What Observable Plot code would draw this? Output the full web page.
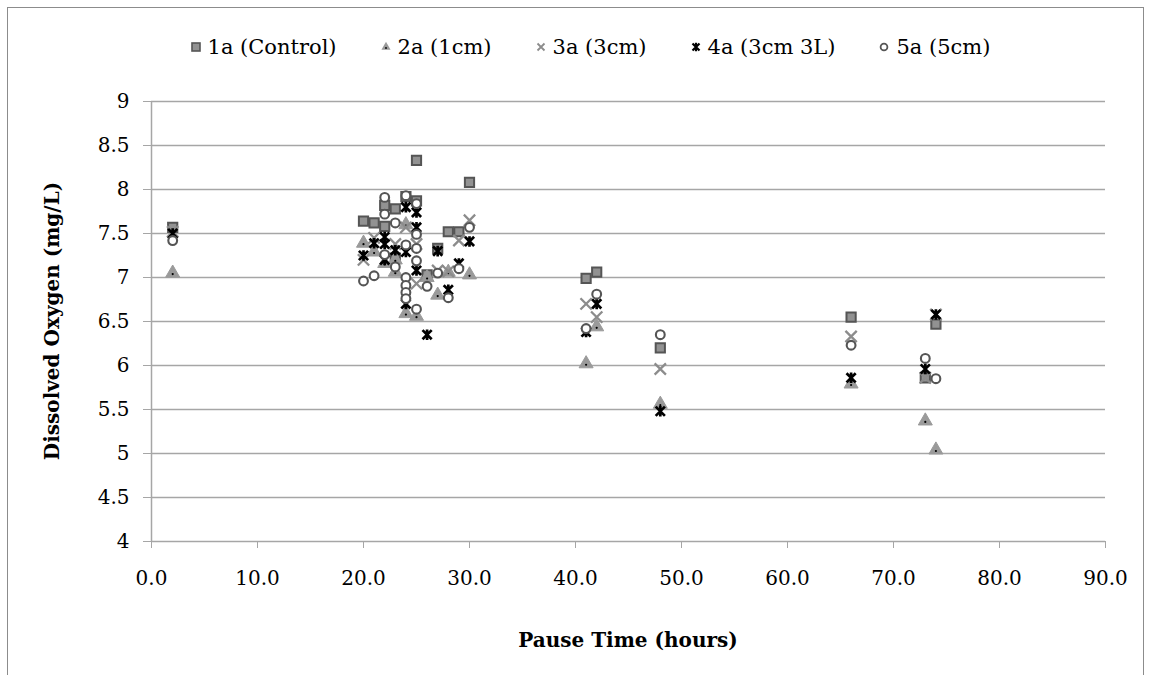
<!DOCTYPE html>
<html>
<head>
<meta charset="utf-8">
<script src="https://cdn.jsdelivr.net/npm/d3@7"></script>
<script src="https://cdn.jsdelivr.net/npm/@observablehq/plot@0.6"></script>
<style>
  html, body { margin: 0; padding: 0; background: #fff; }
  #wrap { position: relative; width: 1153px; height: 675px; overflow: hidden; font-family: "DejaVu Serif", serif; }
  #border { position: absolute; left: 7px; top: 7px; width: 1137px; height: 700px; border: 1.5px solid #8c8c8c; box-sizing: border-box; }
  #chart { position: absolute; left: 0; top: 0; }
  #legend { position: absolute; top: 35px; left: 14px; width: 1153px; display: flex; justify-content: center; gap: 44px; font-size: 21px; color: #000; }
  #legend .item { display: flex; align-items: center; gap: 7px; }
  #legend svg { overflow: visible; }
  .ytitle { position: absolute; left: 52px; top: 321px; transform: translate(-50%, -50%) rotate(-90deg); font-weight: bold; font-size: 20px; white-space: nowrap; }
  .xtitle { position: absolute; left: 628px; top: 640px; transform: translate(-50%, -50%); font-weight: bold; font-size: 20px; white-space: nowrap; }
</style>
</head>
<body>
<div id="wrap">
  <div id="border"></div>
  <div id="chart"></div>
  <div id="legend"></div>
  <div class="ytitle">Dissolved Oxygen (mg/L)</div>
  <div class="xtitle">Pause Time (hours)</div>
</div>
<script>
// ---- data ----
const pauseHours = [2, 20, 21, 22, 22, 22, 23, 23, 24, 24, 24, 24, 24, 24, 25, 25, 25, 25, 25, 26, 27, 28, 29, 30, 41, 42, 48, 66, 73, 74];

const do1a = [7.57, 7.64, 7.62, 7.82, 7.58, null, 7.78, 7.22, 7.92, null, null, null, null, null, 8.33, 7.87, null, null, null, 7.03, 7.33, 7.52, 7.52, 8.08, 6.99, 7.06, 6.20, 6.55, 5.86, 6.47];
const do2a = [7.05, 7.39, 7.29, 7.16, null, null, 7.20, 7.06, 7.60, 6.59, null, null, null, null, null, 6.56, null, null, null, 7.00, 6.80, 7.06, null, 7.03, 6.02, 6.44, 5.56, 5.79, 5.37, 5.04];
const do3a = [7.52, 7.20, 7.45, null, null, null, 7.38, null, 7.57, null, null, null, null, null, 7.38, 6.93, null, null, null, null, 7.08, 7.07, 7.42, 7.65, 6.70, 6.55, 5.96, 6.33, 5.86, 6.58];
const do4a = [7.50, 7.25, 7.39, 7.46, 7.38, 7.20, 7.31, null, 7.80, 7.29, 6.70, null, null, null, 7.74, 7.57, 7.08, null, null, 6.35, 7.30, 6.86, 7.16, 7.41, 6.38, 6.70, 5.48, 5.86, 5.96, 6.58];
const do5a = [7.42, 6.96, 7.02, 7.91, 7.72, 7.26, 7.62, 7.12, 7.93, 7.37, 7.00, 6.91, 6.83, 6.76, 7.84, 7.49, 7.33, 7.19, 6.64, 6.90, 7.05, 6.77, 7.10, 7.57, 6.42, 6.81, 6.35, 6.23, 6.08, 5.85];

const seriesNames = ["1a (Control)", "2a (1cm)", "3a (3cm)", "4a (3cm 3L)", "5a (5cm)"];
const xTicks = [0, 10, 20, 30, 40, 50, 60, 70, 80, 90];
const yTicks = [4, 4.5, 5, 5.5, 6, 6.5, 7, 7.5, 8, 8.5, 9];

// ---- build tidy rows ----
function rows(values) {
  return pauseHours.map((h, i) => ({hours: h, value: values[i]})).filter(d => d.value != null);
}
const s1 = rows(do1a), s2 = rows(do2a), s3 = rows(do3a), s4 = rows(do4a), s5 = rows(do5a);

// Excel-like "star" marker: an x with a vertical bar
const starSymbol = {
  draw(ctx, size) {
    const r = Math.sqrt(size / Math.PI);
    ctx.moveTo(-r, -r); ctx.lineTo(r, r);
    ctx.moveTo(r, -r); ctx.lineTo(-r, r);
    ctx.moveTo(0, -r * 1.15); ctx.lineTo(0, r * 1.15);
  }
};

const chart = Plot.plot({
  width: 1153,
  height: 675,
  marginTop: 101,
  marginBottom: 134,
  marginLeft: 151,
  marginRight: 48,
  style: {fontFamily: "DejaVu Serif, serif", fontSize: "19px", color: "#000", background: "transparent"},
  x: {domain: [0, 90], label: null},
  y: {domain: [4, 9], label: null},
  marks: [
    Plot.ruleY(yTicks, {stroke: "#a6a6a6", strokeWidth: 1.3}),
    Plot.ruleX([0], {stroke: "#a6a6a6", strokeWidth: 1.5}),
    Plot.axisY({ticks: yTicks, tickSize: 8, tickPadding: 14, tickFormat: d => String(d), stroke: "#a6a6a6", strokeOpacity: 1, fontSize: 20}),
    Plot.axisX({ticks: xTicks, tickSize: 7, tickPadding: 22, tickFormat: d => d.toFixed(1), stroke: "#a6a6a6", strokeOpacity: 1, fontSize: 20}),
    // 1a squares
    Plot.dot(s1, {x: "hours", y: "value", symbol: "square", r: 5.2, fill: "#929292", stroke: "#555555", strokeWidth: 2}),
    // 2a triangles with small dark centre
    Plot.dot(s2, {x: "hours", y: "value", symbol: "triangle", r: 5.2, fill: "#9a9a9a", stroke: "#9a9a9a", strokeWidth: 1}),
    Plot.dot(s2, {x: "hours", y: "value", r: 1.1, fill: "#000", dy: 1}),
    // 3a crosses
    Plot.dot(s3, {x: "hours", y: "value", symbol: "times", r: 5.2, stroke: "#8c8c8c", strokeWidth: 2.3}),
    // 4a stars
    Plot.dot(s4, {x: "hours", y: "value", symbol: starSymbol, r: 4.6, stroke: "#000", strokeWidth: 2.7}),
    // 5a circles
    Plot.dot(s5, {x: "hours", y: "value", symbol: "circle", r: 4.4, fill: "#fff", stroke: "#555555", strokeWidth: 2.1})
  ]
});
document.getElementById("chart").appendChild(chart);

// ---- legend ----
const legendSpecs = [
  {name: seriesNames[0], draw: g => g.append("rect").attr("x", -4).attr("y", -4).attr("width", 8).attr("height", 8).attr("fill", "#929292").attr("stroke", "#555555").attr("stroke-width", 1.6)},
  {name: seriesNames[1], draw: g => { g.append("path").attr("d", d3.symbol(d3.symbolTriangle, 36)()).attr("fill", "#9a9a9a"); g.append("circle").attr("r", 0.9).attr("cy", 1).attr("fill", "#000"); }},
  {name: seriesNames[2], draw: g => g.append("path").attr("d", "M-3.5,-3.5L3.5,3.5M3.5,-3.5L-3.5,3.5").attr("stroke", "#8c8c8c").attr("stroke-width", 1.8)},
  {name: seriesNames[3], draw: g => g.append("path").attr("d", "M-3.5,-3.5L3.5,3.5M3.5,-3.5L-3.5,3.5M0,-4.2L0,4.2").attr("stroke", "#000").attr("stroke-width", 2.2)},
  {name: seriesNames[4], draw: g => g.append("circle").attr("r", 3.4).attr("fill", "#fff").attr("stroke", "#555555").attr("stroke-width", 1.8)}
];
const legend = d3.select("#legend");
for (const spec of legendSpecs) {
  const item = legend.append("div").attr("class", "item");
  const svg = item.append("svg").attr("width", 10).attr("height", 10);
  spec.draw(svg.append("g").attr("transform", "translate(5,5)"));
  item.append("span").text(spec.name);
}
</script>
</body>
</html>
